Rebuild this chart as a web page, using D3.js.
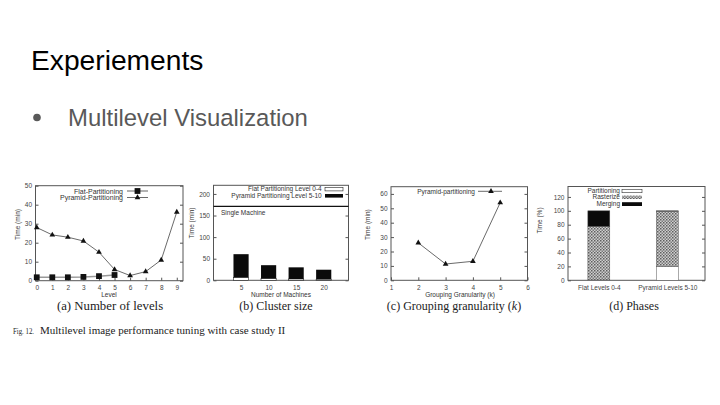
<!DOCTYPE html>
<html><head><meta charset="utf-8">
<script src="https://cdn.jsdelivr.net/npm/d3@7"></script>
<style>body{margin:0;background:#fff}svg{display:block}</style>
</head><body><svg id="s" width="720" height="405"></svg>
<script>
// ---- data ----
const levels = [0,1,2,3,4,5,6,7,8,9];
const flatTime = [1.8,1.8,1.8,2.0,2.4,3.0];
const pyramidTime = [28,24.1,22.9,20.9,15,5.9,2.7,4.8,10.9,36.1];
const machines = ["5","10","15","20"];
const clusterFlat = [6.5,4,3,2.5];
const clusterPyramid = [54,31,27,22];
const singleMachine = 171;
const granularity = [2,3,4,5];
const granTime = [26,11.3,13.2,53.9];
const phaseCats = ["Flat Levels 0-4","Pyramid Levels 5-10"];
const phasePartition = [0.5,20];
const phaseRasterize = [77,79.5];
const phaseMerging = [22.5,0.5];
const ticksA = [0,10,20,30,40,50];
const ticksB = [0,50,100,150,200];
const ticksC = [0,10,20,30,40,50,60];
const ticksCx = [1,2,3,4,5,6];
const ticksD = [0,20,40,60,80,100,120];

const svg = d3.select("#s");
const SANS = "'Liberation Sans', Arial, sans-serif";
const SERIF = "'Liberation Serif', 'Times New Roman', serif";

// patterns
const defs = svg.append("defs");
const pat = defs.append("pattern").attr("id","chk").attr("width",3).attr("height",3).attr("patternUnits","userSpaceOnUse");
pat.append("rect").attr("width",3).attr("height",3).attr("fill","#cfcfcf");
pat.append("rect").attr("x",0).attr("y",0).attr("width",1.5).attr("height",1.5).attr("fill","#5e5e5e");
pat.append("rect").attr("x",1.5).attr("y",1.5).attr("width",1.5).attr("height",1.5).attr("fill","#7a7a7a");

// slide title
svg.append("text").attr("x",31).attr("y",70).attr("font-family",SANS).attr("font-size",28.2).attr("fill","#000").text("Experiements");
svg.append("circle").attr("cx",37).attr("cy",117.5).attr("r",3.8).attr("fill","#595959");
svg.append("text").attr("x",68).attr("y",126).attr("font-family",SANS).attr("font-size",23.9).attr("fill","#595959").text("Multilevel Visualization");

function frame(g, x, y){
  const [x0,x1] = x.range(), [y0,y1] = y.range();
  g.append("rect").attr("x",x0).attr("y",y1).attr("width",x1-x0).attr("height",y0-y1)
    .attr("fill","none").attr("stroke","#555").attr("stroke-width",1);
}
function yTicks(g, x, y, ticks){
  const ax = d3.axisLeft(y).tickValues(ticks).tickSize(-3).tickPadding(3.5);
  const a = g.append("g").attr("transform",`translate(${x.range()[0]},0)`).call(ax);
  a.select(".domain").remove();
  a.selectAll("line").attr("stroke","#555");
  a.selectAll("text").attr("font-family",SANS).attr("font-size",6.5).attr("fill","#444");
  const a2 = g.append("g").attr("transform",`translate(${x.range()[1]},0)`).call(d3.axisRight(y).tickValues(ticks).tickSize(-3).tickFormat(""));
  a2.select(".domain").remove(); a2.selectAll("line").attr("stroke","#555");
}
function xTicks(g, x, y, ticks, fmt, showTicks=true){
  const ax = d3.axisBottom(x).tickValues(ticks).tickSize(showTicks?-3:0).tickPadding(5);
  ax.tickFormat(fmt || d3.format("d"));
  const a = g.append("g").attr("transform",`translate(0,${y.range()[0]})`).call(ax);
  a.select(".domain").remove();
  a.selectAll("line").attr("stroke","#555");
  a.selectAll("text").attr("font-family",SANS).attr("font-size",6.5).attr("fill","#444");
}
function label(g, x, y, t, opts={}){
  const el = g.append("text").attr("x",x).attr("y",y).attr("font-family",opts.serif?SERIF:SANS)
    .attr("font-size",opts.size||6.5).attr("fill",opts.fill||"#333").attr("text-anchor",opts.anchor||"middle").text(t);
  if(opts.rotate) el.attr("transform",`rotate(-90,${x},${y})`);
  return el;
}
function tri(g, cx, cy, s){
  g.append("path").attr("d",d3.symbol(d3.symbolTriangle, s)()).attr("transform",`translate(${cx},${cy})`).attr("fill","#111");
}
const CAP = 12;

// ---- (a) Number of levels ----
{
  const g = svg.append("g");
  const x = d3.scaleLinear().domain([-0.08,9.4]).range([35.5,183]);
  const y = d3.scaleLinear().domain([0,50]).range([280.7,185.7]);
  frame(g,x,y); yTicks(g,x,y,ticksA); xTicks(g,x,y,levels);
  const line = d3.line().x((d,i)=>x(levels[i])).y(d=>y(d));
  g.append("path").attr("d",line(flatTime)).attr("fill","none").attr("stroke","#999").attr("stroke-width",1.5);
  g.selectAll(".sq").data(flatTime).join("rect").attr("x",(d,i)=>x(levels[i])-2.9).attr("y",d=>y(d)-2.9)
    .attr("width",5.8).attr("height",5.8).attr("fill","#111");
  g.append("path").attr("d",line(pyramidTime)).attr("fill","none").attr("stroke","#444").attr("stroke-width",0.8);
  pyramidTime.forEach((d,i)=>tri(g,x(levels[i]),y(d),14));
  // legend
  label(g,123,193.5,"Flat-Partitioning",{anchor:"end",size:7});
  g.append("line").attr("x1",127).attr("x2",148).attr("y1",191).attr("y2",191).attr("stroke","#999").attr("stroke-width",1.5);
  g.append("rect").attr("x",134.6).attr("y",188.1).attr("width",5.8).attr("height",5.8).attr("fill","#111");
  label(g,123,199.5,"Pyramid-Partitioning",{anchor:"end",size:7});
  g.append("line").attr("x1",127).attr("x2",148).attr("y1",197.5).attr("y2",197.5).attr("stroke","#444").attr("stroke-width",0.8);
  tri(g,137.5,197.5,14);
  label(g,109,297,"Level");
  label(g,20,224.5,"Time (min)",{rotate:true});
  label(g,110,310,"(a) Number of levels",{serif:true,size:12.8,fill:"#222"});
}

// ---- (b) Cluster size ----
{
  const g = svg.append("g");
  const x = d3.scaleLinear().domain([-1,3.9]).range([213.5,348.5]);
  const y = d3.scaleLinear().domain([0,220]).range([280.3,185.3]);
  frame(g,x,y); yTicks(g,x,y,ticksB);
  xTicks(g,x,y,d3.range(machines.length),i=>machines[i],false);
  const bw = 0.55;
  g.selectAll(".bf").data(clusterFlat).join("rect").attr("x",(d,i)=>x(i-bw/2)).attr("width",x(bw)-x(0))
    .attr("y",d=>y(d)).attr("height",d=>y(0)-y(d)).attr("fill","#fff").attr("stroke","#222").attr("stroke-width",0.6);
  g.selectAll(".bp").data(clusterPyramid).join("rect").attr("x",(d,i)=>x(i-bw/2)).attr("width",x(bw)-x(0))
    .attr("y",(d,i)=>y(d+clusterFlat[i])).attr("height",d=>y(0)-y(d)).attr("fill","#0a0a0a");
  g.append("line").attr("x1",x.range()[0]).attr("x2",x.range()[1]).attr("y1",y(singleMachine)).attr("y2",y(singleMachine))
    .attr("stroke","#111").attr("stroke-width",1.3);
  label(g,221,215,"Single Machine",{anchor:"start"});
  label(g,321.7,191.3,"Flat Partitioning Level 0-4",{anchor:"end"});
  g.append("rect").attr("x",325).attr("y",187.3).attr("width",18).attr("height",3.6).attr("fill","#fff").attr("stroke","#222").attr("stroke-width",0.6);
  label(g,321.7,198,"Pyramid Partitioning Level 5-10",{anchor:"end"});
  g.append("rect").attr("x",325).attr("y",194).attr("width",18).attr("height",3.6).attr("fill","#0a0a0a");
  label(g,281,297,"Number of Machines");
  label(g,194,223,"Time (min)",{rotate:true});
  label(g,276,310,"(b) Cluster size",{serif:true,size:CAP,fill:"#222"});
}

// ---- (c) Grouping granularity ----
{
  const g = svg.append("g");
  const x = d3.scaleLinear().domain([1,6]).range([391,527.5]);
  const y = d3.scaleLinear().domain([0,65]).range([280.3,186.7]);
  frame(g,x,y); yTicks(g,x,y,ticksC); xTicks(g,x,y,ticksCx);
  const line = d3.line().x((d,i)=>x(granularity[i])).y(d=>y(d));
  g.append("path").attr("d",line(granTime)).attr("fill","none").attr("stroke","#444").attr("stroke-width",0.8);
  granTime.forEach((d,i)=>tri(g,x(granularity[i]),y(d),14));
  label(g,475,193.5,"Pyramid-partitioning",{anchor:"end"});
  g.append("line").attr("x1",478).attr("x2",502).attr("y1",191.3).attr("y2",191.3).attr("stroke","#444").attr("stroke-width",0.8);
  tri(g,491,191.3,14);
  label(g,460,297,"Grouping Granularity (k)");
  label(g,370,224.7,"Time (min)",{rotate:true});
  const t = g.append("text").attr("x",454).attr("y",310).attr("font-family",SERIF).attr("font-size",CAP).attr("fill","#222").attr("text-anchor","middle");
  t.append("tspan").text("(c) Grouping granularity (");
  t.append("tspan").attr("font-style","italic").text("k");
  t.append("tspan").text(")");
}

// ---- (d) Phases ----
{
  const g = svg.append("g");
  const x = d3.scaleLinear().domain([-0.45,1.55]).range([568,705]);
  const y = d3.scaleLinear().domain([0,135]).range([280.3,186.5]);
  frame(g,x,y); yTicks(g,x,y,ticksD);
  xTicks(g,x,y,d3.range(phaseCats.length),i=>phaseCats[i],false);
  const bw = 0.32;
  const layers = [[phasePartition,"#fff"],[phaseRasterize,"url(#chk)"],[phaseMerging,"#0a0a0a"]];
  let base = [0,0];
  layers.forEach(([vals,fill])=>{
    const b = base.slice();
    g.selectAll(null).data(vals).join("rect").attr("x",(d,i)=>x(i-bw/2)).attr("width",x(bw)-x(0))
      .attr("y",(d,i)=>y(b[i]+d)).attr("height",d=>y(0)-y(d)).attr("fill",fill)
      .attr("stroke","#555").attr("stroke-width",0.5);
    base = base.map((v,i)=>v+vals[i]);
  });
  label(g,620,193,"Partitioning",{anchor:"end"});
  g.append("rect").attr("x",622).attr("y",189.3).attr("width",20).attr("height",3.4).attr("fill","#fff").attr("stroke","#333").attr("stroke-width",0.6);
  label(g,620,199.3,"Rasterize",{anchor:"end"});
  g.append("rect").attr("x",622).attr("y",195.6).attr("width",20).attr("height",3.4).attr("fill","url(#chk)");
  label(g,620,206,"Merging",{anchor:"end"});
  g.append("rect").attr("x",622).attr("y",202.2).attr("width",20).attr("height",3.8).attr("fill","#0a0a0a");
  label(g,542,220.5,"Time (%)",{rotate:true});
  label(g,634,310,"(d) Phases",{serif:true,size:CAP,fill:"#222"});
}

// figure caption
svg.append("text").attr("x",13).attr("y",334).attr("font-family",SERIF).attr("font-size",8).attr("fill","#222")
  .attr("textLength",21).attr("lengthAdjust","spacingAndGlyphs").text("Fig. 12.");
svg.append("text").attr("x",40).attr("y",334).attr("font-family",SERIF).attr("font-size",11).attr("fill","#222").text("Multilevel image performance tuning with case study II");
</script></body></html>
